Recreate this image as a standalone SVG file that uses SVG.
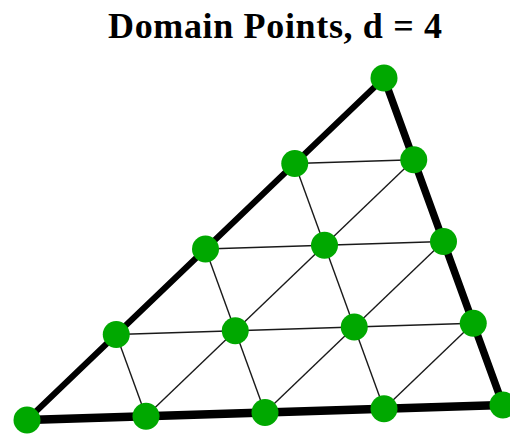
<svg xmlns="http://www.w3.org/2000/svg" width="510" height="434" viewBox="0 0 510 434">
  <style>
    .title { font-family: "Liberation Serif", "Times New Roman", serif; font-weight: bold; font-size: 36px; fill: #000; }
    .edge { stroke: #000; stroke-linecap: round; fill: none; }
    .grid { stroke: #1a1a1a; stroke-width: 1.4; fill: none; }
    .pt { fill: #00a800; }
  </style>
  <rect width="510" height="434" fill="#fff"/>
  <text class="title" x="108" y="38" textLength="334" lengthAdjust="spacing">Domain Points, d = 4</text>
  <g id="connectors">
    <g id="grid-lines">
      <line class="grid" x1="116.25" y1="334.5" x2="473.25" y2="323.25"/>
      <line class="grid" x1="205.5" y1="249" x2="443.5" y2="241.5"/>
      <line class="grid" x1="294.75" y1="163.5" x2="413.75" y2="159.75"/>
      <line class="grid" x1="146" y1="416.25" x2="413.75" y2="159.75"/>
      <line class="grid" x1="265" y1="412.5" x2="443.5" y2="241.5"/>
      <line class="grid" x1="384" y1="408.75" x2="473.25" y2="323.25"/>
      <line class="grid" x1="146" y1="416.25" x2="116.25" y2="334.5"/>
      <line class="grid" x1="265" y1="412.5" x2="205.5" y2="249"/>
      <line class="grid" x1="384" y1="408.75" x2="294.75" y2="163.5"/>
    </g>
    <g id="triangle-edges">
      <line class="edge" x1="27" y1="420" x2="384" y2="78" stroke-width="6"/>
      <line class="edge" x1="384" y1="78" x2="503" y2="405" stroke-width="7.5"/>
      <line class="edge" x1="27" y1="420" x2="503" y2="405" stroke-width="8.5"/>
    </g>
  </g>
  <g id="p400"><circle class="pt" cx="27" cy="420" r="13.5"/></g>
  <g id="p310"><circle class="pt" cx="146" cy="416.25" r="13.5"/></g>
  <g id="p220"><circle class="pt" cx="265" cy="412.5" r="13.5"/></g>
  <g id="p130"><circle class="pt" cx="384" cy="408.75" r="13.5"/></g>
  <g id="p040"><circle class="pt" cx="503" cy="405" r="13.5"/></g>
  <g id="p301"><circle class="pt" cx="116.25" cy="334.5" r="13.5"/></g>
  <g id="p211"><circle class="pt" cx="235.25" cy="330.75" r="13.5"/></g>
  <g id="p121"><circle class="pt" cx="354.25" cy="327" r="13.5"/></g>
  <g id="p031"><circle class="pt" cx="473.25" cy="323.25" r="13.5"/></g>
  <g id="p202"><circle class="pt" cx="205.5" cy="249" r="13.5"/></g>
  <g id="p112"><circle class="pt" cx="324.5" cy="245.25" r="13.5"/></g>
  <g id="p022"><circle class="pt" cx="443.5" cy="241.5" r="13.5"/></g>
  <g id="p103"><circle class="pt" cx="294.75" cy="163.5" r="13.5"/></g>
  <g id="p013"><circle class="pt" cx="413.75" cy="159.75" r="13.5"/></g>
  <g id="p004"><circle class="pt" cx="384" cy="78" r="13.5"/></g>
</svg>
